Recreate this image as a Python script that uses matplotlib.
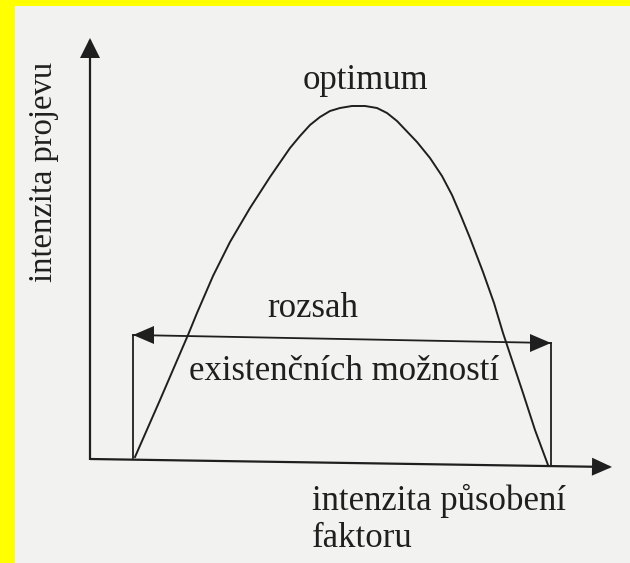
import numpy as np
import matplotlib
matplotlib.use("Agg")
import matplotlib.pyplot as plt

# curve of the reaction (pixel-like coordinates, y grows downward)
curve_x = [135, 160, 188, 197, 213, 230, 250, 270, 290, 300, 310, 320, 330, 340,
           352, 365, 377, 387, 397, 417, 430, 442, 452, 461, 470, 483, 494, 503,
           513, 523, 535, 548]
curve_y = [457, 400, 335, 313, 276, 242, 208, 177, 148, 136, 125, 117, 111, 108,
           106, 106, 108, 113, 121, 142, 158, 176, 195, 216, 238, 272, 303, 333,
           363, 393, 430, 465]

# axes (origin, ends)
yaxis_x = [90, 90]
yaxis_y = [460, 40]
xaxis_x = [90, 610]
xaxis_y = [459, 467]

# range bracket
range_left_x = [133, 133]
range_left_y = [458, 335]
range_right_x = [551, 551]
range_right_y = [466, 343]
range_bar_x = [133, 551]
range_bar_y = [335, 343]

labels = {
    "optimum": "optimum",
    "rozsah": "rozsah",
    "exist": "existenčních možností",
    "xlab1": "intenzita působení",
    "xlab2": "faktoru",
    "ylab": "intenzita projevu",
}

ink = "#1f1f1f"
paper = "#f2f2f0"

fig = plt.figure(figsize=(6.3, 5.63), dpi=100, facecolor="#ffff00")
ax = fig.add_axes([15 / 630, 0, 615 / 630, 557 / 563])
ax.set_xlim(15, 630)
ax.set_ylim(563, 6)
ax.set_facecolor(paper)
ax.axis("off")
ax.add_patch(plt.Rectangle((15, 6), 615, 557, color=paper, zorder=0))


def head(tip, direction, length, half):
    d = np.array(direction, float)
    d = d / np.hypot(*d)
    n = np.array([-d[1], d[0]])
    t = np.array(tip, float)
    b = t - d * length
    pts = np.array([t, b + n * half, b - n * half])
    ax.fill(pts[:, 0], pts[:, 1], color=ink, lw=0, zorder=3)


# axes lines
ax.plot(yaxis_x, yaxis_y, color=ink, lw=1.6, solid_capstyle="butt")
ax.plot(xaxis_x, xaxis_y, color=ink, lw=1.6, solid_capstyle="butt")
head((yaxis_x[1], yaxis_y[1] - 2), (0, -1), 20, 10)
head((xaxis_x[1] + 2, xaxis_y[1]), (1, (xaxis_y[1] - xaxis_y[0]) / 520), 20, 9)

# bracket
ax.plot(range_left_x, range_left_y, color=ink, lw=1.3)
ax.plot(range_right_x, range_right_y, color=ink, lw=1.3)
ax.plot(range_bar_x, range_bar_y, color=ink, lw=1.3)
head((range_bar_x[0], range_bar_y[0]), (-1, 0), 21, 9)
head((range_bar_x[1], range_bar_y[1]), (1, 0), 21, 9)

# curve
ax.plot(curve_x, curve_y, color=ink, lw=1.4, solid_joinstyle="round")

serif = ["Liberation Serif", "DejaVu Serif"]
ax.text(365, 89, labels["optimum"], ha="center", va="baseline", fontsize=25,
        family=serif, color=ink)
ax.text(313, 317, labels["rozsah"], ha="center", va="baseline", fontsize=25,
        family=serif, color=ink)
ax.text(344, 380, labels["exist"], ha="center", va="baseline", fontsize=25,
        family=serif, color=ink)
ax.text(312, 510, labels["xlab1"], ha="left", va="baseline", fontsize=25,
        family=serif, color=ink)
ax.text(312, 547, labels["xlab2"], ha="left", va="baseline", fontsize=25,
        family=serif, color=ink)
ax.text(44, 172, labels["ylab"], ha="center", va="center", rotation=90,
        fontsize=23.5, family=serif, color=ink)

fig.savefig("out.png", dpi=100, facecolor=fig.get_facecolor())
